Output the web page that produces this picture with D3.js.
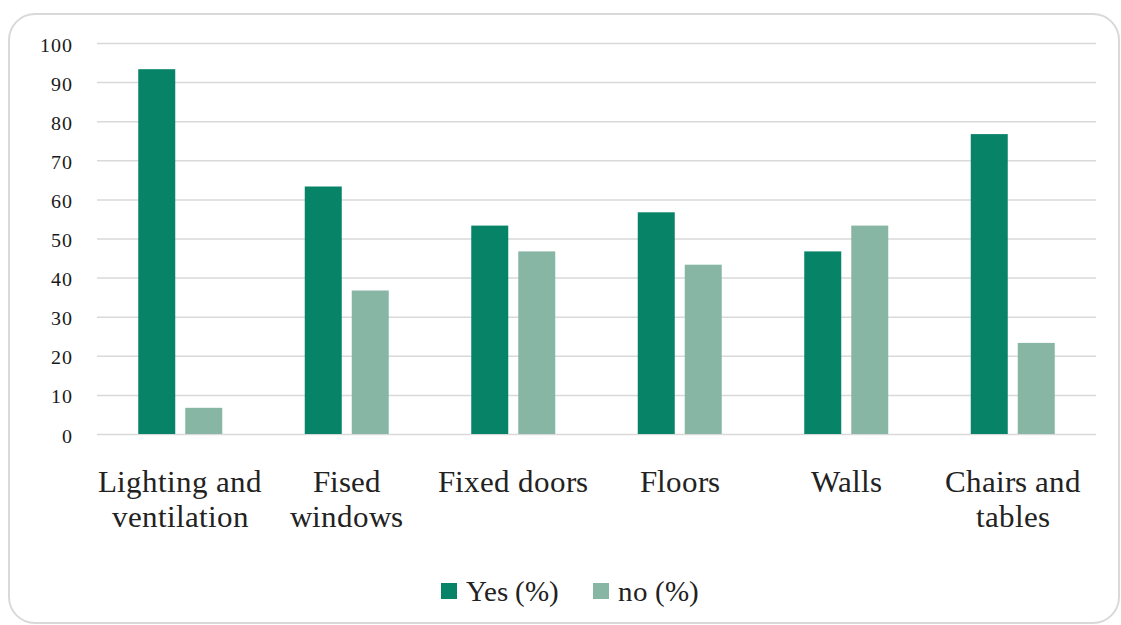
<!DOCTYPE html>
<html><head><meta charset="utf-8">
<script src="https://cdn.jsdelivr.net/npm/d3@7"></script>
<style>
@font-face{font-family:"SerifLocal";src:local("Liberation Serif"),local("LiberationSerif"),local("LiberationSerif-Regular"),local("Times New Roman"),local("DejaVu Serif"),local("DejaVuSerif"),local("Noto Serif"),local("NotoSerif-Regular");}
html,body{margin:0;padding:0;background:#fff;}svg{display:block;}
.serif{font-family:"SerifLocal","Liberation Serif","Times New Roman",Times,serif;}
</style>
</head><body>
<svg id="chart" width="1121" height="625"></svg>
<script>
const categories = [["Lighting and","ventilation"],["Fised","windows"],["Fixed doors"],["Floors"],["Walls"],["Chairs and","tables"]];
const seriesNames = ["Yes (%)","no (%)"];
const yesValues = [93.3, 63.3, 53.3, 56.7, 46.7, 76.7];
const noValues = [6.7, 36.7, 46.7, 43.3, 53.3, 23.3];
const yTicks = [0,10,20,30,40,50,60,70,80,90,100];
const colors = ["#078367","#87b6a5"];

(function(){
const svg = d3.select("#chart");
svg.append("rect").attr("x",9).attr("y",14).attr("width",1110).attr("height",609)
  .attr("rx",26).attr("fill","#fff").attr("stroke","#d9d9d9").attr("stroke-width",2);

const pLeft = 97, pRight = 1096, pTop = 43, pBottom = 434;
const y = d3.scaleLinear().domain([0,100]).range([pBottom, pTop]);
const x0 = d3.scaleBand().domain(d3.range(categories.length)).range([pLeft,pRight]).paddingInner(0).paddingOuter(0);
const bw = 37, gap = 10;

const yAxis = d3.axisLeft(y).tickValues(yTicks).tickSize(-(pRight-pLeft)).tickPadding(24);
const gy = svg.append("g").attr("transform",`translate(${pLeft},0)`).call(yAxis);
gy.attr("font-family",null).attr("font-size",null);
gy.select(".domain").remove();
gy.selectAll(".tick line").attr("stroke","#d9d9d9").attr("stroke-width",1.5);
gy.selectAll(".tick text").attr("class","serif").style("font-size","20px").style("letter-spacing","1px").attr("fill","#1a1a1a").attr("dy","0.4em");

const data = categories.map((c,i)=>({i, vals:[yesValues[i], noValues[i]]}));
const g = svg.append("g");
data.forEach(d=>{
  const cx = x0(d.i) + x0.bandwidth()/2;
  d.vals.forEach((v,k)=>{
    const xx = k===0 ? cx - gap/2 - bw : cx + gap/2;
    g.append("rect").attr("x",xx).attr("y",y(v)).attr("width",bw).attr("height",y(0)-y(v)).attr("fill",colors[k]);
  });
  const t = svg.append("text").attr("class","serif").attr("text-anchor","middle")
    .style("font-size","31px").attr("fill","#222");
  categories[d.i].forEach((line,j)=>{
    t.append("tspan").attr("x",cx).attr("y",492 + j*35).text(line);
  });
});

const legendItems = [{x:441, name:seriesNames[0], c:colors[0]},{x:593, name:seriesNames[1], c:colors[1]}];
legendItems.forEach(l=>{
  svg.append("rect").attr("x",l.x).attr("y",583).attr("width",16).attr("height",16).attr("fill",l.c);
  svg.append("text").attr("class","serif").attr("x",l.x+25).attr("y",601).style("font-size","29px").attr("fill","#222").text(l.name);
});
})();
</script>
</body></html>
